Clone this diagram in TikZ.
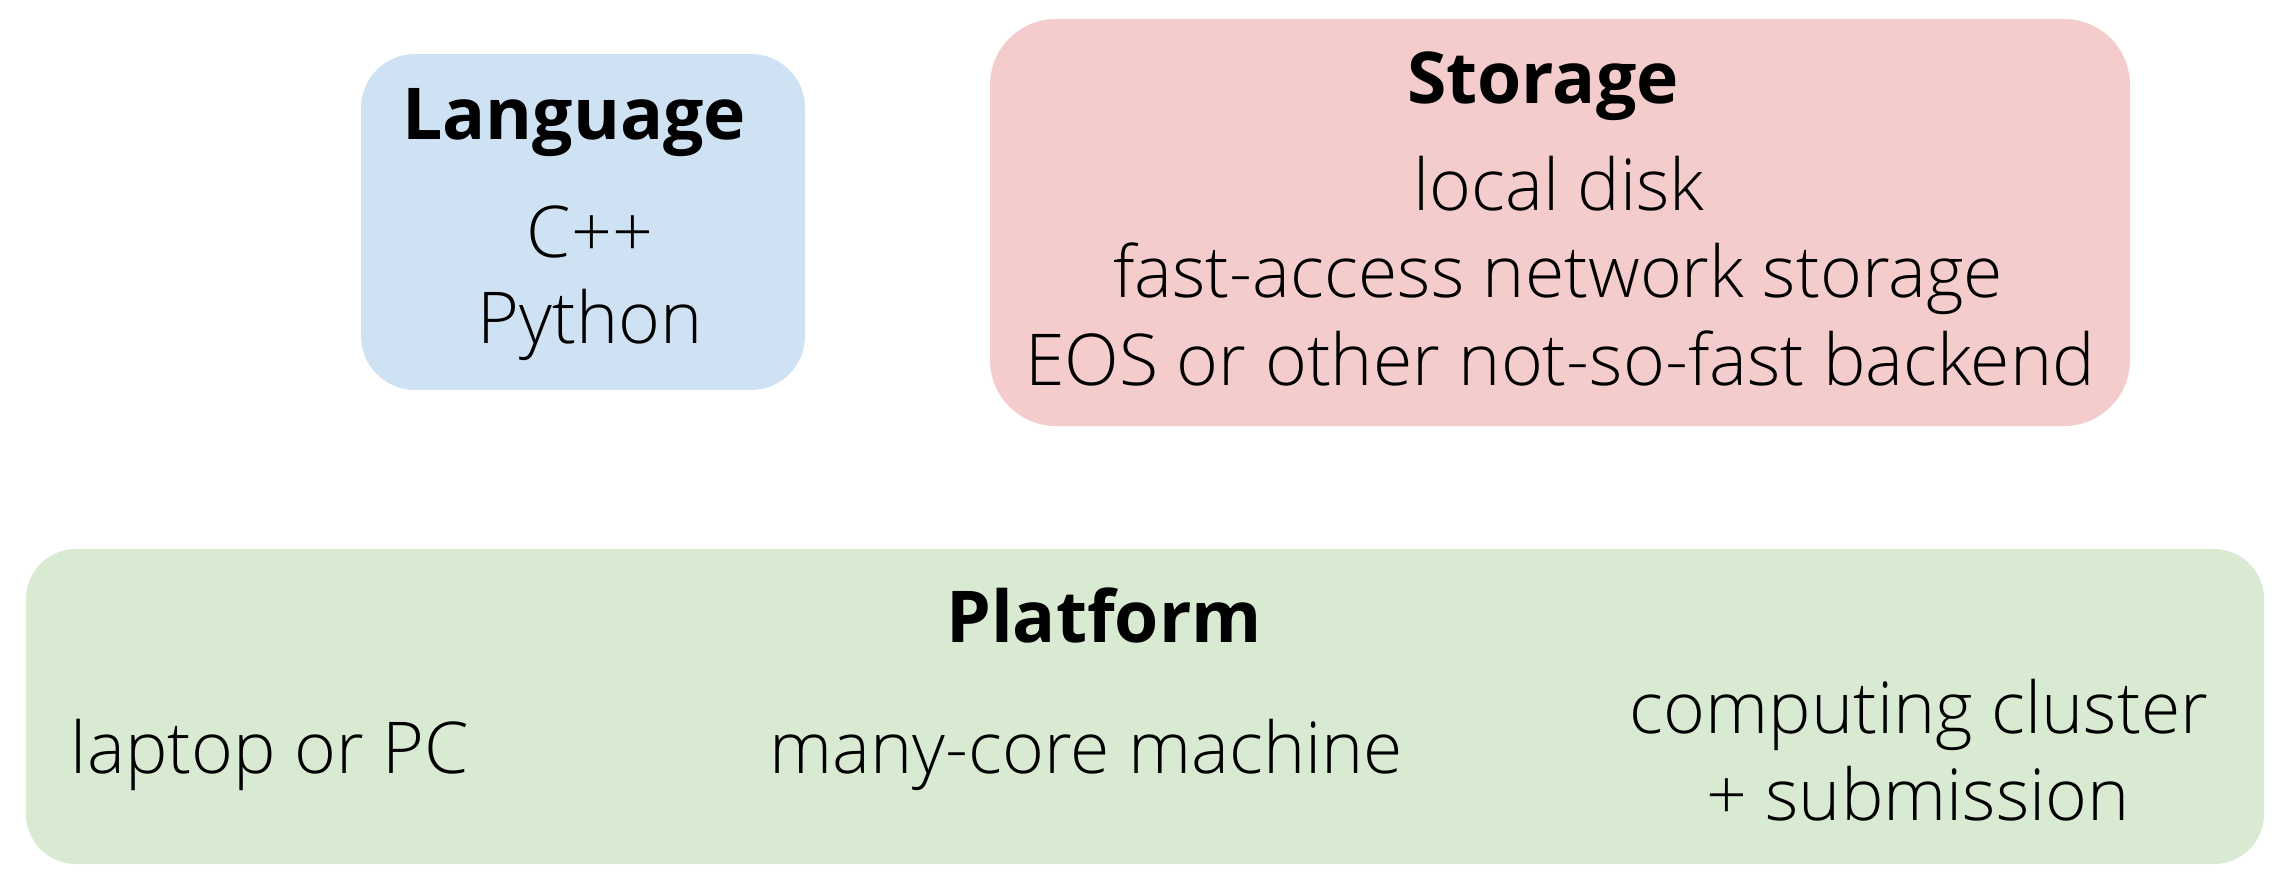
\documentclass[tikz,border=0pt]{standalone}
\usepackage{fontspec}
\setmainfont{Open Sans}
\newfontfamily\lightfont{Open Sans Light}
\definecolor{langblue}{HTML}{CFE2F3}
\definecolor{storpink}{HTML}{F4CCCC}
\definecolor{platgreen}{HTML}{D9EAD3}
\tikzset{
  panel/.style={rectangle, draw=none, inner sep=0pt},
  ttl/.style={anchor=base, inner sep=0pt, font=\fontsize{71.5}{86}\selectfont\bfseries},
  itm/.style={anchor=base, inner sep=0pt, font=\fontsize{71.5}{86}\selectfont\lightfont},
}
\begin{document}
\begin{tikzpicture}[x=1pt,y=-1pt]
\useasboundingbox (0,0) rectangle (2292,894);
% boxes
\node[panel, fill=langblue, rounded corners=54pt, minimum width=444pt, minimum height=336pt] (lang) at (583,222) {};
\node[panel, fill=storpink, rounded corners=66pt, minimum width=1140pt, minimum height=407pt] (stor) at (1560,222.5) {};
\node[panel, fill=platgreen, rounded corners=50pt, minimum width=2238pt, minimum height=315pt] (plat) at (1145,706.5) {};
% Language
\node[ttl] (langt) at (574,139) {Language};
\node[itm] (cpp) at (590,257) {C++};
\node[itm] (py) at (590,343) {Python};
% Storage
\node[ttl] (stort) at (1543,103) {Storage};
\node[itm] (s1) at (1559,210) {local disk};
\node[itm] (s2) at (1558,297) {fast-access network storage};
\node[itm] (s3) at (1560,385) {EOS or other not-so-fast backend};
% Platform
\node[ttl] (platt) at (1104,642) {Platform};
\node[itm] (p1) at (270,773) {laptop or PC};
\node[itm] (p2) at (1086,773) {many-core machine};
\node[itm] (p3a) at (1919,733) {computing cluster};
\node[itm] (p3b) at (1918,820) {+ submission};
\end{tikzpicture}
\end{document}
